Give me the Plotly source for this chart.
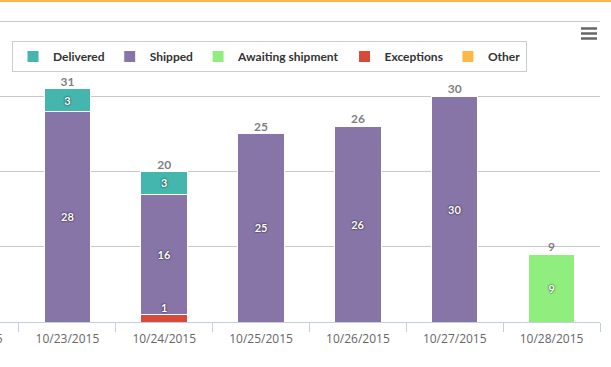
import plotly.graph_objects as go

# ---- data ----
categories = ["10/22/2015", "10/23/2015", "10/24/2015", "10/25/2015",
              "10/26/2015", "10/27/2015", "10/28/2015"]
delivered = [None, 3, 3, None, None, None, None]
shipped = [None, 28, 16, 25, 26, 30, None]
awaiting = [None, None, None, None, None, None, 9]
exceptions = [None, None, 1, None, None, None, None]
other = [None, None, None, None, None, None, None]

series_names = ["Delivered", "Shipped", "Awaiting shipment", "Exceptions", "Other"]
series_values = [delivered, shipped, awaiting, exceptions, other]
colors = ["#44b6ae", "#8775a7", "#90ee7e", "#d84a38", "#ffb848"]

totals = []
for i in range(len(categories)):
    vals = [s[i] for s in series_values if s[i] is not None]
    totals.append(sum(vals) if vals else None)

# ---- layout constants ----
W, H = 611, 367
ML, MR, MT, MB = 0, 11, 18, 45
PW, PH = W - ML - MR, H - MT - MB
x_range = [0.304, 6.5]
y_max_grid = 40
grid_px = 301                       # pixels from 0 to the top gridline
y_range = [0, y_max_grid * PH / grid_px]

def py2paper(py):
    return (H - MB - py) / PH

def px2paper(px):
    return (px - ML) / PW

FONT = "Lato, 'Open Sans', sans-serif"
TICKFONT = "'Open Sans', sans-serif"

fig = go.Figure()

# Highcharts stacks first series on top: add traces bottom-first
for name, vals, col in reversed(list(zip(series_names, series_values, colors))):
    small = name == "Exceptions"
    fig.add_trace(go.Bar(
        name=name, x=categories, y=vals,
        marker=dict(color=col, line=dict(color="white", width=1)),
        text=None if small else [None if v is None else str(v) for v in vals],
        textposition="inside", insidetextanchor="middle",
        constraintext="none", textangle=0,
        textfont=dict(family=FONT, size=11, color="white", weight="bold",
                      shadow="0px 0px 2px #000"),
        hoverinfo="x+y+name",
    ))

# label for the tiny Exceptions segment (shown above it)
fig.add_trace(go.Scatter(
    x=categories, y=exceptions, mode="text",
    text=[None if v is None else str(v) for v in exceptions],
    textposition="top center", showlegend=False, cliponaxis=False,
    textfont=dict(family=FONT, size=11, color="white", weight="bold",
                  shadow="0px 0px 2px #000"),
    hoverinfo="skip",
))

# stack totals
fig.add_trace(go.Scatter(
    x=categories, y=totals, mode="text",
    text=[None if t is None else str(t) for t in totals],
    textposition="top center", showlegend=False, cliponaxis=False,
    textfont=dict(family=FONT, size=12, color="#7f7f7f", weight="bold"),
    hoverinfo="skip",
))

# clipped label of the first (scrolled-off) category
fig.add_annotation(
    x=px2paper(ML + (0 - x_range[0]) * PW / (x_range[1] - x_range[0])),
    xref="paper", y=py2paper(338), yref="paper",
    text=categories[0], showarrow=False, xanchor="center", yanchor="middle",
    font=dict(family=TICKFONT, size=12, color="#666666"),
)

shapes = [
    # orange top border
    dict(type="rect", xref="paper", yref="paper",
         x0=px2paper(0), x1=px2paper(W), y0=py2paper(2), y1=py2paper(0),
         fillcolor="#ffb848", line=dict(width=0), layer="above"),
]
# menu icon
for yy in (28.5, 33.5, 38.5):
    shapes.append(dict(type="line", xref="paper", yref="paper",
                       x0=px2paper(581), x1=px2paper(597),
                       y0=py2paper(yy), y1=py2paper(yy),
                       line=dict(color="#666666", width=2.5)))

fig.update_layout(
    width=W, height=H,
    margin=dict(l=ML, r=MR, t=MT, b=MB),
    paper_bgcolor="white", plot_bgcolor="white",
    barmode="stack", bargap=0.52,
    font=dict(family=FONT, color="#333333"),
    showlegend=True,
    legend=dict(
        orientation="h", traceorder="reversed",
        x=px2paper(12), y=py2paper(41), xanchor="left", yanchor="top",
        bordercolor="#cccccc", borderwidth=1, bgcolor="white",
        font=dict(family=FONT, size=12, color="#333333", weight="bold"),
        itemwidth=30,
    ),
    xaxis=dict(
        type="category", range=x_range,
        showline=True, linecolor="#c0d0e0", linewidth=1,
        ticks="outside", tickson="boundaries", ticklen=9, tickcolor="#c0d0e0",
        tickfont=dict(family=TICKFONT, size=12, color="#666666"),
        ticklabelstandoff=6,
        showgrid=False, fixedrange=True,
    ),
    yaxis=dict(
        range=y_range, dtick=10, showticklabels=False,
        showgrid=True, gridcolor="#c8c8c8", gridwidth=1,
        zeroline=False, fixedrange=True,
    ),
    shapes=shapes,
)

fig.write_html(
    "out.html",
    config={"displayModeBar": False},
    post_script="document.body.style.margin='0';document.body.style.overflow='hidden';",
)
